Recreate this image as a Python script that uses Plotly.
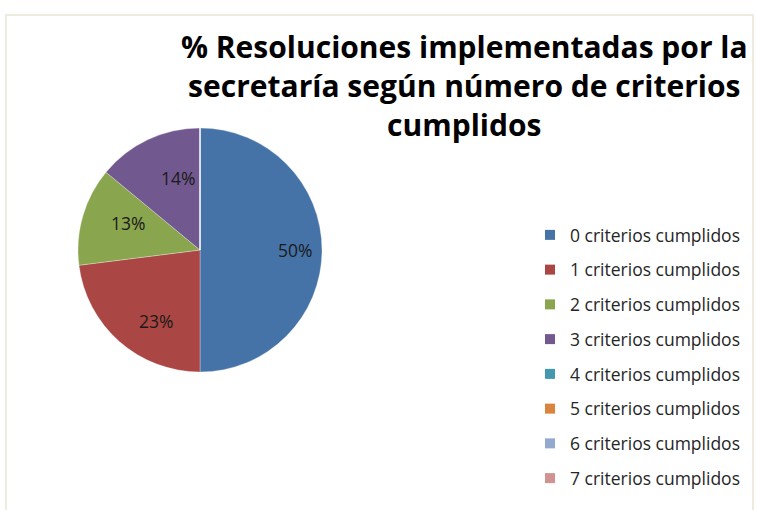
import math
import plotly.graph_objects as go

categories = ["0 criterios cumplidos", "1 criterios cumplidos", "2 criterios cumplidos",
              "3 criterios cumplidos", "4 criterios cumplidos", "5 criterios cumplidos",
              "6 criterios cumplidos", "7 criterios cumplidos"]
values = [50, 23, 13, 14, 0, 0, 0, 0]
colors = ["#4572A7", "#AA4643", "#89A54E", "#71588F", "#4198AF", "#DB843D", "#93A9CF", "#D19392"]

W, H = 757, 510
title_text = "% Resoluciones implementadas por la<br>secretaría según número de criterios<br>cumplidos"

fig = go.Figure()
cx, cy, r = 200, 250, 122
fig.add_trace(go.Pie(
    labels=categories, values=values, sort=False, direction="clockwise", rotation=0,
    marker=dict(colors=colors, line=dict(color="rgba(255,255,255,0.5)", width=0.6)),
    textinfo="none", showlegend=False, hoverinfo="label+percent",
    domain=dict(x=[(cx - r) / W, (cx + r) / W], y=[(H - cy - r) / H, (H - cy + r) / H]),
))
for i, (c, col) in enumerate(zip(categories, colors)):
    fig.add_trace(go.Scatter(x=[None], y=[None], mode="markers", name=c, legendgroup=str(i),
                             marker=dict(symbol="square", size=10, color=col), showlegend=True))

# percentage labels placed at the angular middle of each slice
total = sum(values)
annotations = []
cum = 0
d = 0.78 * r
for v in values:
    if v > 0:
        mid = (cum + v / 2) / total * 2 * math.pi
        px = cx + d * math.sin(mid)
        py = cy - d * math.cos(mid)
        annotations.append(dict(x=px / W, y=1 - py / H, xref="paper", yref="paper",
                                text=f"{round(v / total * 100)}%", showarrow=False,
                                font=dict(family="Open Sans", size=17.5, color="#1a1a1a")))
    cum += v

annotations.append(dict(text=title_text, x=464 / W, y=1 - 24 / H, xref="paper", yref="paper",
                        xanchor="center", yanchor="top", showarrow=False, align="center",
                        font=dict(family="Open Sans", size=30, color="black", weight="bold")))

fig.update_layout(
    width=W, height=H,
    margin=dict(l=0, r=0, t=0, b=0),
    paper_bgcolor="white", plot_bgcolor="white",
    xaxis=dict(visible=False), yaxis=dict(visible=False),
    annotations=annotations,
    legend=dict(x=530 / W, xanchor="left", y=1 - 217 / H, yanchor="top",
                font=dict(family="Open Sans", size=17.5, color="#262626"),
                tracegroupgap=9, traceorder="grouped", bgcolor="rgba(0,0,0,0)"),
    shapes=[dict(type="rect", xref="paper", yref="paper", x0=6 / W, x1=753 / W,
                 y0=-0.1, y1=1 - 15 / H, line=dict(color="#EEECE1", width=2),
                 fillcolor="rgba(0,0,0,0)", layer="below")],
)
fig.write_html("out.html", config={"displayModeBar": False},
               post_script="document.body.style.margin='0';")
